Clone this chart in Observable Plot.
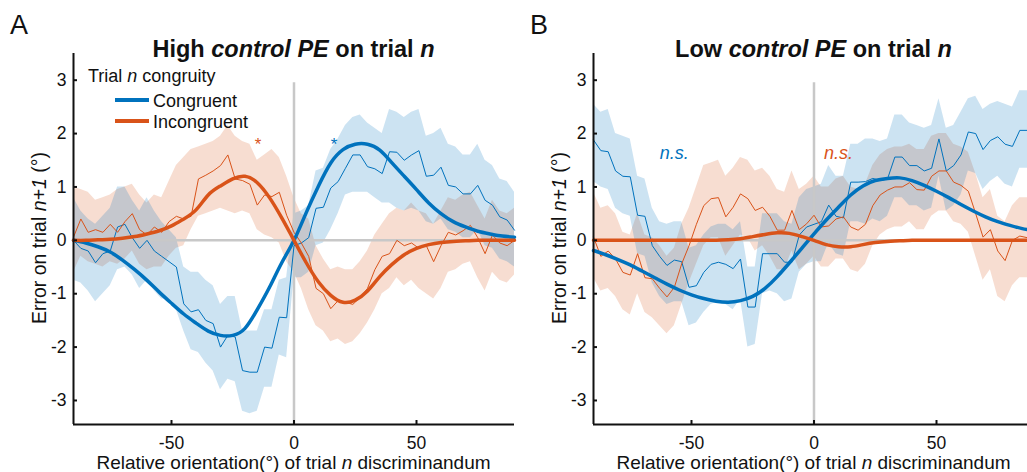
<!DOCTYPE html>
<html>
<head>
<meta charset="utf-8">
<script src="https://cdn.jsdelivr.net/npm/d3@7"></script>
<script src="https://cdn.jsdelivr.net/npm/@observablehq/plot@0.6"></script>
<style>
  html, body { margin: 0; padding: 0; background: #fff; }
  body { width: 1027px; height: 472px; overflow: hidden; font-family: "Liberation Sans", Arial, sans-serif; }
  #fig { position: relative; width: 1027px; height: 472px; }
  #fig svg { position: absolute; top: 0; overflow: visible; }
</style>
</head>
<body>
<div id="fig"></div>
<script>
// Relative orientation of trial n discriminandum (deg), raw running averages
const angle = [-90,-87,-84,-81,-78,-75,-72,-69,-66,-63,-60,-57,-54,-51,-48,-45,-42,-39,-36,-33,
  -30,-27,-24,-21,-18,-15,-12,-9,-6,-3,0,3,6,9,12,15,18,21,24,27,
  30,33,36,39,42,45,48,51,54,57,60,63,66,69,72,75,78,81,84,87,90];
// Angles at which the fitted curves are tabulated
const fitAngle = [-90,-85,-80,-75,-70,-65,-60,-55,-50,-45,-40,-35,-30,-25,-20,-15,-10,-5,
  0,5,10,15,20,25,30,35,40,45,50,55,60,65,70,75,80,85,90];

// High control PE: congruent trials
const highCongMean = [0.0,-0.15,-0.2,-0.42,-0.25,-0.2,0.25,0.3,0.05,-0.15, 0.0,-0.2,-0.3,-0.4,-0.5,-1.19,-1.34,-1.3,-1.5,-1.56,
  -2.0,-1.78,-1.81,-2.44,-2.47,-2.47,-2.0,-2.02,-1.44,-1.45, -0.1,-0.05,0.05,0.6,0.62,0.98,1.1,1.35,1.6,1.6,
  1.38,1.34,1.25,1.66,1.65,1.5,1.6,1.68,1.2,1.22, 1.37,1.03,1.0,0.87,0.87,1.03,0.75,0.66,0.44,0.38, 0.19];
const highCongLow = [-0.75,-0.8,-0.95,-1.15,-1.0,-0.85,-0.55,-0.5,-0.65,-0.9, -0.75,-0.95,-1.1,-1.1,-1.3,-1.7,-2.05,-2.1,-2.3,-2.45,
  -2.8,-2.6,-2.65,-3.2,-3.25,-3.2,-2.75,-2.75,-2.15,-2.2, -0.7,-0.7,-0.6,-0.1,-0.05,0.2,0.5,0.85,0.9,0.9,
  0.9,0.8,0.7,0.7,0.6,0.55,0.6,0.55,0.35,0.3, 0.4,0.2,0.15,0.05,0.05,0.2,-0.1,-0.15,-0.35,-0.4, -0.5];
const highCongHigh = [0.8,0.55,0.4,0.3,0.45,0.6,1.0,1.0,0.75,0.55, 0.8,0.55,0.35,0.2,0.05,-0.5,-0.6,-0.6,-0.75,-0.85,
  -1.2,-1.05,-1.05,-1.7,-1.7,-1.7,-1.3,-1.3,-0.75,-0.7, 0.5,0.55,0.65,1.3,1.35,1.7,1.9,2.15,2.3,2.35,
  2.2,2.1,2.0,2.45,2.4,2.3,2.4,2.45,1.95,2.0, 2.1,1.8,1.75,1.6,1.6,1.8,1.5,1.4,1.15,1.1, 0.9];
const highCongFit = [0,-0.05,-0.12,-0.22,-0.37,-0.55,-0.75,-0.97,-1.18,-1.38,-1.55,-1.7,-1.78,-1.78,-1.65,-1.3,-0.88,-0.42,
  0,0.52,1.02,1.45,1.7,1.8,1.8,1.69,1.45,1.2,0.95,0.7,0.5,0.35,0.25,0.17,0.12,0.08,0.06];

// High control PE: incongruent trials
const highIncMean = [0.06,0.4,0.15,0.2,0.15,0.3,0.15,0.35,0.5,0.2, 0.1,0.25,0.15,0.35,0.45,0.4,0.45,1.15,1.22,1.3,
  1.4,1.6,1.15,1.12,1.05,0.66,0.85,0.82,0.9,0.47, 0.15,-0.05,-0.3,-0.9,-1.0,-1.28,-1.13,-1.16,-1.2,-1.07,
  -0.9,-0.55,-0.3,-0.25,0.0,-0.1,-0.05,-0.15,-0.1,-0.4, -0.1,0.15,0.1,0.18,0.28,0.05,-0.25,0.1,-0.05,-0.1, 0.0];
const highIncLow = [-0.6,-0.3,-0.4,-0.45,-0.5,-0.4,-0.45,-0.35,-0.2,-0.45, -0.55,-0.5,-0.5,-0.3,-0.15,-0.1,0.2,0.45,0.5,0.55,
  0.6,0.55,0.5,0.55,0.5,0.2,0.1,0.05,-0.05,-0.4, -0.6,-0.9,-1.3,-1.6,-1.7,-1.9,-1.85,-1.95,-1.9,-1.75,
  -1.55,-1.3,-1.0,-0.9,-0.7,-0.85,-0.75,-0.9,-1.0,-1.1, -0.9,-0.6,-0.55,-0.45,-0.4,-0.7,-0.95,-0.6,-0.75,-0.8, -0.65];
const highIncHigh = [1.0,0.95,0.9,0.75,0.8,0.85,0.95,1.0,1.05,0.85, 0.7,0.85,0.8,1.1,1.4,1.55,1.7,1.75,1.8,1.85,
  1.95,2.15,1.95,1.85,1.8,1.5,1.6,1.7,1.55,1.2, 0.8,0.5,0.4,-0.1,-0.35,-0.55,-0.5,-0.55,-0.55,-0.4,
  -0.2,0.1,0.3,0.5,0.6,0.55,0.7,0.55,0.5,0.3, 0.55,0.8,0.75,0.85,0.9,0.65,0.4,0.75,0.55,0.5, 0.6];
const highIncFit = [0,0,0.01,0.02,0.04,0.07,0.12,0.18,0.27,0.4,0.57,0.85,1.02,1.15,1.2,1.08,0.8,0.42,
  0,-0.42,-0.78,-1.03,-1.16,-1.12,-0.95,-0.68,-0.45,-0.27,-0.15,-0.08,-0.04,-0.02,-0.01,0,0,0,0];

// Low control PE: congruent trials
const lowCongMean = [1.88,1.68,1.66,1.3,1.2,1.19,0.47,0.45,-0.1,-0.3, -0.47,-0.37,-0.4,-0.88,-0.85,-0.6,-0.45,-0.41,-0.45,-0.53,
  -0.35,-1.25,-1.25,-0.25,-0.25,-0.25,-0.41,-0.41,0.1,0.25, 0.3,0.35,0.66,0.45,0.42,1.09,1.09,1.1,1.16,1.12,
  1.15,1.56,1.56,1.4,1.4,1.3,1.35,1.9,1.3,1.4, 1.6,2.03,2.0,1.7,1.87,1.94,1.8,1.76,2.06,2.06, 2.1];
const lowCongLow = [1.1,1.0,0.95,0.6,0.5,0.45,-0.25,-0.3,-0.8,-1.05, -1.2,-1.15,-1.15,-1.6,-1.55,-1.35,-1.2,-1.15,-1.2,-1.3,
  -1.1,-2.0,-1.95,-1.0,-0.95,-1.0,-1.15,-1.1,-0.6,-0.45, -0.4,-0.4,-0.05,-0.25,-0.3,0.35,0.35,0.3,0.4,0.35,
  0.45,0.8,0.8,0.65,0.65,0.55,0.6,1.2,0.55,0.65, 0.85,1.3,1.25,0.95,1.1,1.2,1.05,1.0,1.35,1.35, 1.4];
const lowCongHigh = [2.55,2.4,2.45,2.0,1.95,1.9,1.2,1.15,0.6,0.35, 0.3,0.35,0.35,-0.15,-0.1,0.1,0.25,0.3,0.3,0.2,
  0.35,-0.5,-0.5,0.5,0.5,0.5,0.35,0.3,0.8,0.95, 1.0,1.05,1.4,1.2,1.2,1.8,1.8,1.9,1.9,1.85,
  1.9,2.35,2.35,2.2,2.15,2.1,2.15,2.65,2.1,2.15, 2.4,2.65,2.7,2.45,2.55,2.6,2.55,2.5,2.8,2.8, 2.8];
const lowCongFit = [-0.19,-0.27,-0.36,-0.46,-0.58,-0.7,-0.82,-0.93,-1.02,-1.09,-1.14,-1.16,-1.13,-1.05,-0.9,-0.68,-0.42,-0.15,
  0.12,0.38,0.62,0.85,1.02,1.12,1.16,1.17,1.12,1.03,0.92,0.8,0.67,0.55,0.44,0.35,0.28,0.22,0.18];

// Low control PE: incongruent trials
const lowIncMean = [0.06,-0.3,-0.2,-0.35,-0.6,-0.65,-0.25,-0.7,-0.72,-0.9, -1.06,-0.88,-0.44,-0.1,0.3,0.65,0.78,0.8,0.44,0.62,
  0.87,0.78,0.56,0.62,0.45,0.19,0.19,0.56,0.2,0.31, 0.47,0.25,0.27,0.4,0.44,0.25,0.19,0.3,0.65,0.85,
  0.94,1.0,1.0,1.08,0.95,0.94,1.2,1.3,1.3,1.09, 1.03,0.92,0.5,0.06,0.2,-0.2,-0.38,0.0,0.08,0.05, 0.05];
const lowIncLow = [-0.7,-0.95,-0.9,-1.05,-1.3,-1.4,-1.0,-1.35,-1.45,-1.6, -1.75,-1.6,-1.2,-0.8,-0.45,-0.1,0.05,0.05,-0.3,-0.1,
  0.1,0.05,-0.2,-0.1,-0.3,-0.55,-0.55,-0.2,-0.55,-0.45, -0.3,-0.5,-0.5,-0.35,-0.35,-0.55,-0.6,-0.45,-0.1,0.1,
  0.2,0.25,0.25,0.35,0.2,0.2,0.45,0.55,0.55,0.35, 0.3,0.15,-0.3,-0.75,-0.55,-1.05,-1.15,-0.85,-0.7,-0.7, -0.7];
const lowIncHigh = [0.9,0.6,0.65,0.5,0.15,0.1,0.5,0.1,0.05,-0.1, -0.3,-0.15,0.3,0.6,1.0,1.4,1.45,1.5,1.2,1.35,
  1.55,1.5,1.3,1.35,1.2,0.95,0.9,1.3,0.95,1.05, 1.2,1.0,1.0,1.15,1.2,1.0,0.95,1.05,1.4,1.6,
  1.7,1.75,1.75,1.8,1.7,1.7,1.95,2.0,2.0,1.8, 1.75,1.65,1.25,0.8,0.95,0.45,0.35,0.65,0.8,0.8, 0.8];
const lowIncFit = [0,0,0,0,0,0,0,0,0,0,0,0.01,0.03,0.07,0.11,0.14,0.13,0.07,
  0,-0.08,-0.12,-0.12,-0.08,-0.04,-0.02,-0.01,0,0,0,0,0,0,0,0,0,0,0];

const yTicks = [-3, -2, -1, 0, 1, 2, 3];
const xTicks = [-50, 0, 50];

const BLUE = "#0072BD";
const ORANGE = "#D95319";
const GREY = "#c8c8c8";
const INK = "#111";
const FONT = "'Liberation Sans', Arial, Helvetica, sans-serif";
const Y0 = -3.45, Y1 = 3.5;

function series(mean, low, high) {
  return angle.map((a, i) => ({a, m: mean[i], lo: low[i], hi: high[i]}));
}
function fit(values) {
  return fitAngle.map((a, i) => ({a, v: values[i]}));
}

// plain SVG text helper; parts are [string, italic] pairs
function label(s, {x, y, size, anchor = "start", weight = "normal", transform = null, parts}) {
  const t = s.append("text")
    .attr("text-anchor", anchor)
    .attr("font-size", size)
    .attr("font-weight", weight)
    .attr("fill", INK);
  if (transform) t.attr("transform", transform); else t.attr("x", x).attr("y", y);
  parts.forEach(([txt, it]) => t.append("tspan").attr("font-style", it ? "italic" : "normal").text(txt));
  return t;
}

function drawPanel({left, width, cong, inc, congFit, incFit, notes, title, letter, legend}) {
  const svg = Plot.plot({
    width, height: 472,
    marginTop: 53, marginBottom: 48, marginLeft: 73, marginRight: width - 73 - 441,
    style: {fontFamily: FONT, fontSize: "17.5px", color: INK, background: "transparent", overflow: "visible"},
    x: {domain: [-90, 90]},
    y: {domain: [Y0, Y1]},
    marks: [
      Plot.areaY(inc, {x: "a", y1: "lo", y2: "hi", fill: ORANGE, fillOpacity: 0.2}),
      Plot.areaY(cong, {x: "a", y1: "lo", y2: "hi", fill: BLUE, fillOpacity: 0.2}),
      Plot.ruleY([0], {x1: -90, x2: 90, stroke: GREY, strokeWidth: 2.5}),
      Plot.ruleX([0], {y1: Y0, y2: 2.95, stroke: GREY, strokeWidth: 2.5}),
      Plot.lineY(cong, {x: "a", y: "m", stroke: BLUE, strokeWidth: 1}),
      Plot.lineY(inc, {x: "a", y: "m", stroke: ORANGE, strokeWidth: 1}),
      Plot.lineY(congFit, {x: "a", y: "v", stroke: BLUE, strokeWidth: 3.5, curve: "natural"}),
      Plot.lineY(incFit, {x: "a", y: "v", stroke: ORANGE, strokeWidth: 3.5, curve: "natural"}),
      Plot.text(notes, {x: "x", y: "y", text: "t", fill: "c", fontStyle: "italic",
        fontSize: d => d.t === "*" ? 17 : 18}),
      Plot.axisX({ticks: xTicks, tickSize: -4, tickPadding: 16, tickFormat: d => String(d), label: null, strokeWidth: 2}),
      Plot.axisY({ticks: yTicks, tickSize: -4, tickPadding: 11, tickFormat: d => String(d), label: null, strokeWidth: 2}),
      Plot.ruleY([Y0], {stroke: INK, strokeWidth: 2}),
      Plot.ruleX([-90], {stroke: INK, strokeWidth: 2})
    ]
  });
  svg.style.left = left + "px";
  const s = d3.select(svg);
  const cx = 73 + 441 / 2;

  label(s, {x: 10, y: 34, size: 27, parts: [[letter, false]]});
  label(s, {x: cx, y: 57, size: 23.5, anchor: "middle", weight: "bold", parts: title});
  label(s, {transform: "translate(46,238) rotate(-90)", size: 19.5, anchor: "middle",
    parts: [["Error on trial ", false], ["n+1", true], [" (°)", false]]});
  label(s, {x: cx, y: 469, size: 19, anchor: "middle",
    parts: [["Relative orientation(°) of trial ", false], ["n", true], [" discriminandum", false]]});

  if (legend) {
    label(s, {x: 88, y: 82, size: 18, parts: [["Trial ", false], ["n", true], [" congruity", false]]});
    [["Congruent", BLUE, 100], ["Incongruent", ORANGE, 121]].forEach(([name, c, y]) => {
      s.append("line").attr("x1", 115).attr("x2", 149).attr("y1", y).attr("y2", y)
        .attr("stroke", c).attr("stroke-width", 4);
      label(s, {x: 153, y: y + 6.5, size: 18, parts: [[name, false]]});
    });
  }
  return svg;
}

const fig = document.getElementById("fig");

fig.appendChild(drawPanel({
  left: 0, width: 520,
  cong: series(highCongMean, highCongLow, highCongHigh),
  inc: series(highIncMean, highIncLow, highIncHigh),
  congFit: fit(highCongFit), incFit: fit(highIncFit),
  notes: [{x: -15, y: 1.8, t: "*", c: ORANGE}, {x: 16, y: 1.8, t: "*", c: BLUE}],
  title: [["High ", false], ["control PE", true], [" on trial ", false], ["n", true]],
  letter: "A", legend: true
}));

fig.appendChild(drawPanel({
  left: 520, width: 524,
  cong: series(lowCongMean, lowCongLow, lowCongHigh),
  inc: series(lowIncMean, lowIncLow, lowIncHigh),
  congFit: fit(lowCongFit), incFit: fit(lowIncFit),
  notes: [{x: -57, y: 1.63, t: "n.s.", c: BLUE}, {x: 10, y: 1.63, t: "n.s.", c: ORANGE}],
  title: [["Low ", false], ["control PE", true], [" on trial ", false], ["n", true]],
  letter: "B", legend: false
}));
</script>
</body>
</html>
